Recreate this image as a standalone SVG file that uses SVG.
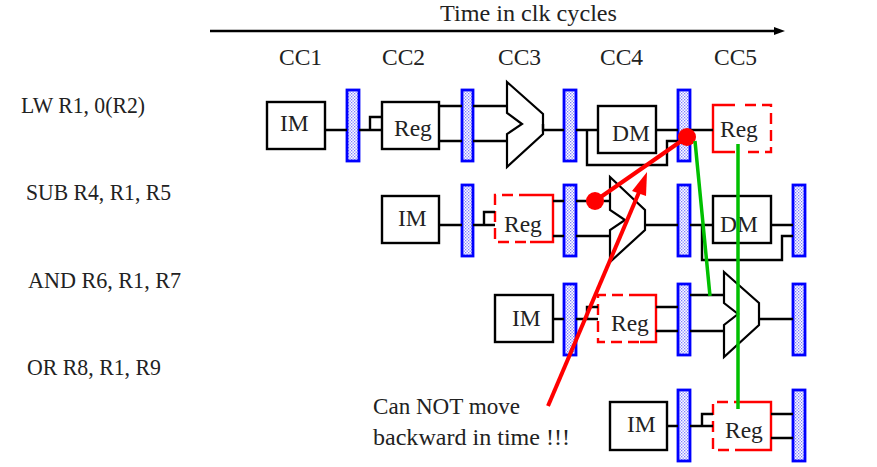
<svg xmlns="http://www.w3.org/2000/svg" width="877" height="467" viewBox="0 0 877 467">
<style>
text{font-family:"Liberation Serif","Times New Roman",serif;font-size:23.5px;fill:#222}
.box{fill:#fff;stroke:#000;stroke-width:2.4}
.alu{fill:#fff;stroke:#000;stroke-width:2.2;stroke-linejoin:miter}
.latch{fill:url(#dots);stroke:#0000ff;stroke-width:2.8}
.red{fill:none;stroke:#f00;stroke-width:2.4}
.dash{fill:none;stroke:#f00;stroke-width:2.4;stroke-dasharray:11 6}
.wire{fill:none;stroke:#000;stroke-width:2.4}
.fr{fill:none;stroke:#f00;stroke-width:4}
.gr{fill:none;stroke:#00c000;stroke-width:3.5}
</style>
<defs>
<pattern id="dots" width="3" height="3" patternUnits="userSpaceOnUse">
<rect width="3" height="3" fill="#fff"/>
<rect width="1.3" height="1.3" fill="#7a7aff"/>
<rect x="1.5" y="1.5" width="1.3" height="1.3" fill="#7a7aff"/>
</pattern>
</defs>
<rect width="877" height="467" fill="#fff"/>
<g id="timeline"><text x="440" y="21" textLength="177" lengthAdjust="spacingAndGlyphs">Time in clk cycles</text></g>
<g id="cc-labels">
<text x="279" y="65">CC1</text><text x="382" y="65">CC2</text><text x="498" y="65">CC3</text><text x="600" y="65">CC4</text><text x="714" y="65">CC5</text>
</g>
<g id="instruction-labels">
<text x="21" y="113" textLength="124" lengthAdjust="spacingAndGlyphs">LW R1, 0(R2)</text>
<text x="26" y="200" textLength="145" lengthAdjust="spacingAndGlyphs">SUB R4, R1, R5</text>
<text x="28" y="288" textLength="153" lengthAdjust="spacingAndGlyphs">AND R6, R1, R7</text>
<text x="27" y="375" textLength="134" lengthAdjust="spacingAndGlyphs">OR R8, R1, R9</text>
</g>
<g id="row1">
<g id="im1"><rect class="box" x="267" y="102" width="58" height="47"/><text x="280" y="131">IM</text></g>
<rect id="l11" class="latch" x="347" y="90" width="12" height="71"/>
<g id="reg1"><rect class="box" x="382" y="102" width="57" height="47"/><text x="394" y="136">Reg</text></g>
<rect id="l12" class="latch" x="462" y="90" width="11" height="71"/>
<path id="alu1" class="alu" d="M507 82L543 114V134L507 167V134L522 124L507 113Z"/>
<rect id="l13" class="latch" x="564" y="90" width="12" height="71"/>
<g id="dm1"><rect class="box" x="598" y="106" width="58" height="47"/><text x="612" y="141">DM</text></g>
<rect id="l14" class="latch" x="678" y="90" width="12" height="71"/>
<g id="wb1"><path class="red" d="M735 105H713V152H735"/><path class="dash" d="M745 105H771V152H745"/><text x="720" y="137">Reg</text></g>
</g>
<g id="row2">
<g id="im2"><rect class="box" x="382" y="196" width="57" height="47"/><text x="398" y="226">IM</text></g>
<rect id="l21" class="latch" x="462" y="185" width="11" height="71"/>
<g id="reg2"><path class="dash" d="M530 195H495V242H530"/><path class="red" d="M530 195H553V242H530"/><text x="504" y="232">Reg</text></g>
<rect id="l22" class="latch" x="564" y="185" width="12" height="71"/>
<path id="alu2" class="alu" d="M610 177L645 210V230L610 262V230L625 220L610 210Z"/>
<rect id="l23" class="latch" x="678" y="185" width="12" height="71"/>
<g id="dm2"><rect class="box" x="713" y="196" width="58" height="47"/><text x="720" y="232">DM</text></g>
<rect id="l24" class="latch" x="793" y="185" width="12" height="71"/>
</g>
<g id="row3">
<g id="im3"><rect class="box" x="495" y="295" width="58" height="47"/><text x="512" y="326">IM</text></g>
<rect id="l31" class="latch" x="564" y="284" width="12" height="71"/>
<g id="reg3"><path class="dash" d="M640 295H598V342H640"/><path class="red" d="M640 295H656V342H640"/><text x="611" y="331">Reg</text></g>
<rect id="l32" class="latch" x="678" y="284" width="12" height="71"/>
<path id="alu3" class="alu" d="M724 272L759 303V325L724 357V325L738 314L724 303Z"/>
<rect id="l33" class="latch" x="793" y="284" width="12" height="71"/>
</g>
<g id="row4">
<g id="im4"><rect class="box" x="610" y="402" width="57" height="48"/><text x="627" y="432">IM</text></g>
<rect id="l41" class="latch" x="678" y="390" width="12" height="71"/>
<g id="reg4"><path class="dash" d="M745 402H713V450H745"/><path class="red" d="M745 402H771V450H745"/><text x="725" y="438">Reg</text></g>
<rect id="l42" class="latch" x="793" y="390" width="12" height="71"/>
</g>
<g id="note"><text x="373" y="414" textLength="147" lengthAdjust="spacingAndGlyphs">Can NOT move</text><text x="373" y="445" textLength="197" lengthAdjust="spacingAndGlyphs">backward in time !!!</text></g>
<g id="connectors">
<path d="M210 31H775" class="wire"/><path d="M785 31L774 27V35Z" fill="#000"/>
<path class="wire" d="M325 130H347M359 130H382M370 130V117H382M439 106H462M439 141H462M473 106H507M473 141H507M543 124V130H564M576 130H598M587 130V165H667V141H678M656 130H678M690 130H713"/>
<path class="wire" d="M439 225H462M473 225H495M484 225V212H495M553 201H564M553 236H564M576 201H610M576 236H610M645 225H678M690 225H713M702 225V260H782V236H793M771 225H793"/>
<path class="wire" d="M553 319H564M576 319H598M587 319V307H598M656 307H678M656 331H678M690 295H724M690 331H724M759 319H793"/>
<path class="wire" d="M667 426H678M690 426H713M702 426V414H713M771 414H793M771 438H793"/>
<circle cx="687" cy="137" r="9" fill="#f00"/><circle cx="595" cy="201" r="9" fill="#f00"/>
<path class="fr" d="M687 137L595 201"/>
<path class="fr" d="M548 406L640 190"/><path d="M647 172L632 191L646 196Z" fill="#f00"/>
<path class="gr" d="M695 141L710 296M738 144V409"/>
</g>
</svg>
